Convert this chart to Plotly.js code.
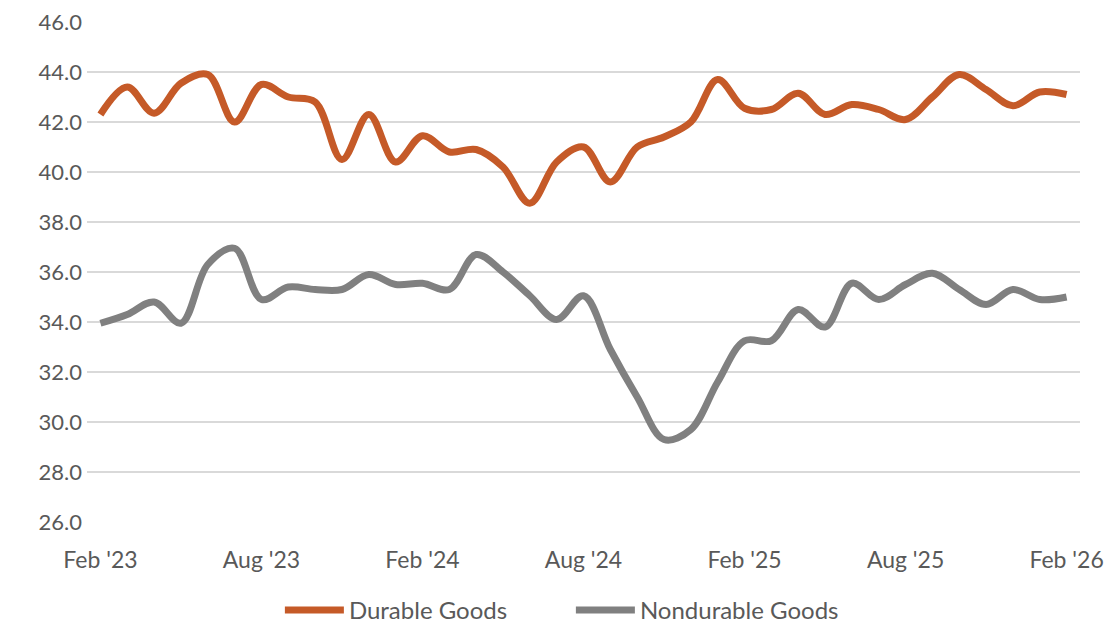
<!DOCTYPE html>
<html>
<head>
<meta charset="utf-8">
<script src="https://cdn.plot.ly/plotly-3.0.1.min.js"></script>
<style>
  html, body { margin: 0; padding: 0; background: #ffffff; }
  #chart { width: 1115px; height: 633px; }
</style>
</head>
<body>
<div id="chart"></div>
<script>
const months = [
  "Feb '23","Mar '23","Apr '23","May '23","Jun '23","Jul '23","Aug '23","Sep '23","Oct '23","Nov '23","Dec '23","Jan '24",
  "Feb '24","Mar '24","Apr '24","May '24","Jun '24","Jul '24","Aug '24","Sep '24","Oct '24","Nov '24","Dec '24","Jan '25",
  "Feb '25","Mar '25","Apr '25","May '25","Jun '25","Jul '25","Aug '25","Sep '25","Oct '25","Nov '25","Dec '25","Jan '26",
  "Feb '26"
];
const durableGoods = [
  42.3, 43.4, 42.35, 43.55, 43.9, 42.0, 43.5, 43.0, 42.8, 40.5, 42.3, 40.4,
  41.45, 40.8, 40.9, 40.2, 38.75, 40.4, 41.0, 39.6, 41.0, 41.4, 42.0, 43.7,
  42.55, 42.5, 43.15, 42.3, 42.7, 42.5, 42.1, 43.0, 43.9, 43.3, 42.65, 43.2,
  43.1
];
const nondurableGoods = [
  33.95, 34.3, 34.8, 33.95, 36.3, 36.95, 34.9, 35.4, 35.3, 35.3, 35.9, 35.5,
  35.55, 35.3, 36.7, 36.0, 35.05, 34.1, 35.05, 32.9, 31.0, 29.3, 29.7, 31.6,
  33.25, 33.25, 34.5, 33.8, 35.55, 34.9, 35.5, 35.95, 35.3, 34.7, 35.3, 34.9,
  35.0
];
const tickLabels = ["Feb '23","Aug '23","Feb '24","Aug '24","Feb '25","Aug '25","Feb '26"];
const yTicks = [26, 28, 30, 32, 34, 36, 38, 40, 42, 44, 46];

const W = 1115, H = 633;

const traces = [
  {
    x: months, y: durableGoods, name: 'Durable Goods', type: 'scatter', mode: 'lines',
    line: { color: '#C55A28', width: 7, shape: 'spline', smoothing: 1 }
  },
  {
    x: months, y: nondurableGoods, name: 'Nondurable Goods', type: 'scatter', mode: 'lines',
    line: { color: '#808080', width: 7, shape: 'spline', smoothing: 1 }
  }
];

const layout = {
  width: W, height: H,
  margin: { l: 0, r: 0, t: 0, b: 0 },
  paper_bgcolor: '#ffffff', plot_bgcolor: '#ffffff',
  font: { family: 'Lato, "Open Sans", sans-serif', color: '#595959', size: 22 },
  showlegend: true,
  legend: {
    orientation: 'h', x: 0.512, xanchor: 'center', y: 0, yanchor: 'bottom',
    font: { size: 24, color: '#595959' }, traceorder: 'normal', itemwidth: 59,
    entrywidth: 217, entrywidthmode: 'pixels'
  },
  xaxis: {
    domain: [87 / W, 1080 / W],
    type: 'category', range: [-0.5, 36.5], automargin: false,
    tickmode: 'array', tickvals: tickLabels, ticktext: tickLabels,
    showgrid: false, zeroline: false, showline: false, ticks: '',
    ticklabelstandoff: 22,
    tickfont: { size: 23, color: '#595959' }
  },
  yaxis: {
    domain: [(H - 522) / H, (H - 22) / H], automargin: false,
    range: [26, 46], tickmode: 'array', tickvals: yTicks,
    ticktext: yTicks.map(v => v.toFixed(1)),
    showgrid: true, gridcolor: '#D9D9D9', gridwidth: 1.5,
    zeroline: false, showline: false, ticks: '',
    ticklabelstandoff: 4,
    tickfont: { size: 22, color: '#595959' }
  }
};

Plotly.newPlot('chart', traces, layout, { displayModeBar: false, staticPlot: true });
</script>
</body>
</html>
